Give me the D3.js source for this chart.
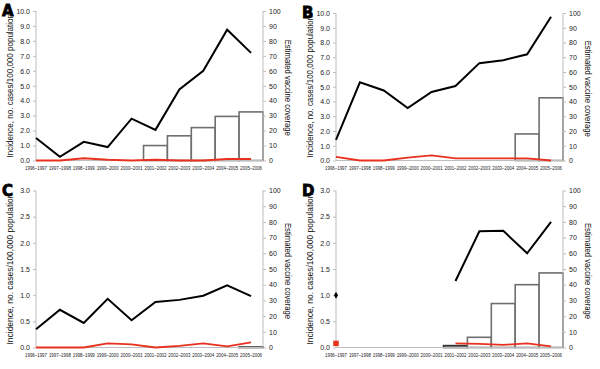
<!DOCTYPE html>
<html><head><meta charset="utf-8">
<script src="https://cdn.jsdelivr.net/npm/d3@7/dist/d3.min.js"></script>
<style>
html,body{margin:0;padding:0;background:#fff;}
svg{display:block;font-family:"Liberation Sans",Arial,sans-serif;}
</style></head>
<body>
<svg id="chart" width="600" height="369"></svg>
<script>
const categories = ["1996–1997","1997–1998","1998–1999","1999–2000","2000–2001","2001–2002","2002–2003","2003–2004","2004–2005","2005–2006"];

const aIncidence = [1.5, 0.25, 1.25, 0.9, 2.8, 2.05, 4.75, 6.0, 8.75, 7.2];
const aVaccineType = [0.0, 0.0, 0.15, 0.05, 0.0, 0.05, 0.0, 0.0, 0.1, 0.1];
const aCoverage = [null, null, null, null, null, 10, 16.5, 22, 29.5, 32.5];

const bIncidence = [1.4, 5.3, 4.75, 3.55, 4.65, 5.05, 6.6, 6.8, 7.2, 9.75];
const bVaccineType = [0.25, 0.0, 0.0, 0.2, 0.35, 0.15, 0.15, 0.15, 0.15, 0.0];
const bCoverage = [null, null, null, null, null, null, null, null, 18, 42.5];

const cIncidence = [0.35, 0.72, 0.47, 0.93, 0.52, 0.87, 0.91, 0.99, 1.19, 0.98];
const cVaccineType = [0.0, 0.0, 0.0, 0.08, 0.06, 0.0, 0.03, 0.08, 0.02, 0.1];
const cCoverage = [null, null, null, null, null, null, null, null, null, 0.3];

const dIncidence = [null, null, null, null, null, 1.27, 2.22, 2.23, 1.8, 2.4];
const dVaccineType = [null, null, null, null, null, 0.08, 0.07, 0.05, 0.08, 0.02];
const dCoverage = [null, null, null, null, null, 1.2, 6.5, 28, 40, 47.5];
const dSingleIncidence = [{cat: 0, value: 1.0}];
const dSingleVaccineType = [{cat: 0, value: 0.05}];

const leftTicksAB = [0,1,2,3,4,5,6,7,8,9,10];
const leftTicksCD = [0,0.5,1,1.5,2,2.5,3];
const rightTicks = [0,10,20,30,40,50,60,70,80,90,100];

const leftTitle = "Incidence, no. cases/100,000 population";
const rightTitle = "Estimated vaccine coverage";

const panels = [
  {letter:"A", x0:36, x1:263, y0:11, y1:160.5, lmax:10, lticks:leftTicksAB, inc:aIncidence, vt:aVaccineType, cov:aCoverage},
  {letter:"B", x0:336, x1:563, y0:13, y1:160.5, lmax:10, lticks:leftTicksAB, inc:bIncidence, vt:bVaccineType, cov:bCoverage},
  {letter:"C", x0:36, x1:263, y0:190.5, y1:347.5, lmax:3, lticks:leftTicksCD, inc:cIncidence, vt:cVaccineType, cov:cCoverage},
  {letter:"D", x0:336, x1:563, y0:190.5, y1:347.5, lmax:3, lticks:leftTicksCD, inc:dIncidence, vt:dVaccineType, cov:dCoverage,
   single:dSingleIncidence, singleVT:dSingleVaccineType}
];

const svg = d3.select("#chart");
const axisGray = "#bdbdbd";
const red = "#e8321f";

panels.forEach(p => {
  const g = svg.append("g");
  const x = d3.scaleLinear().domain([0, 9.5]).range([p.x0, p.x1]);
  const yl = d3.scaleLinear().domain([0, p.lmax]).range([p.y1, p.y0]);
  const yr = d3.scaleLinear().domain([0, 100]).range([p.y1, p.y0]);
  const bw = x(1) - x(0);

  // bars (vaccine coverage)
  const bars = p.cov.map((v,i)=>({i, v})).filter(d => d.v != null);
  g.selectAll("rect.bar").data(bars).enter().append("rect")
    .attr("x", d => x(d.i) - bw/2)
    .attr("width", bw)
    .attr("y", d => yr(d.v))
    .attr("height", d => yr(0) - yr(d.v))
    .attr("fill", "#fff")
    .attr("stroke", d => d.v < 2 ? "#333" : "#6f6f6f")
    .attr("stroke-width", 1.6);

  // axes
  const la = d3.axisLeft(yl).tickValues(p.lticks).tickFormat(d3.format(".1f")).tickSize(3).tickPadding(3);
  const lg = g.append("g").attr("transform", `translate(${p.x0},0)`).call(la);
  const ra = d3.axisRight(yr).tickValues(rightTicks).tickFormat(d3.format("d")).tickSize(3).tickPadding(3);
  const rg = g.append("g").attr("transform", `translate(${p.x1},0)`).call(ra);
  [lg, rg].forEach(ag => {
    ag.select(".domain").attr("stroke", axisGray).attr("stroke-width", 1).attr("d", `M0,${p.y0}V${p.y1}`);
    ag.selectAll(".tick line").attr("stroke", axisGray);
    ag.selectAll(".tick text").attr("font-size", 7).attr("fill", "#222")
      .attr("font-family", "'Liberation Sans',Arial,sans-serif");
  });
  // baseline
  g.append("line").attr("x1", p.x0).attr("x2", p.x1).attr("y1", p.y1).attr("y2", p.y1)
    .attr("stroke", axisGray).attr("stroke-width", 1);

  // x labels
  g.selectAll("text.xl").data(categories).enter().append("text")
    .attr("x", (d,i) => x(i)).attr("y", p.y1 + 9)
    .attr("text-anchor", "middle").attr("font-size", 5.2).attr("fill", "#222")
    .attr("textLength", 22).attr("lengthAdjust", "spacingAndGlyphs")
    .text(d => d);

  // lines
  const line = d3.line().defined(d => d.v != null).x(d => x(d.i));
  g.append("path").datum(p.vt.map((v,i)=>({i,v})))
    .attr("d", line.y(d => yl(d.v)))
    .attr("fill", "none").attr("stroke", red).attr("stroke-width", 1.8).attr("stroke-linejoin","round");
  g.append("path").datum(p.inc.map((v,i)=>({i,v})))
    .attr("d", line.y(d => yl(d.v)))
    .attr("fill", "none").attr("stroke", "#000").attr("stroke-width", 2).attr("stroke-linejoin","miter");

  if (p.single) {
    g.selectAll("path.dia").data(p.single).enter().append("path")
      .attr("d", d3.symbol().type(d3.symbolDiamond).size(14))
      .attr("transform", d => `translate(${x(d.cat)},${yl(d.value)})`)
      .attr("fill", "#000");
  }
  if (p.singleVT) {
    g.selectAll("path.sq").data(p.singleVT).enter().append("path")
      .attr("d", d3.symbol().type(d3.symbolSquare).size(30))
      .attr("transform", d => `translate(${x(d.cat)},${yl(d.value) - 1.5})`)
      .attr("fill", red);
  }

  // titles
  const lcx = p.x0 - 26, lcy = (p.y0 + p.y1) / 2;
  g.append("text").attr("transform", `translate(${lcx},${lcy}) rotate(-90)`)
    .attr("text-anchor", "middle").attr("font-size", 8.4).attr("fill", "#111")
    .attr("textLength", p.y1 - p.y0 - 6).attr("lengthAdjust", "spacingAndGlyphs")
    .attr("dy", "0.35em").text(leftTitle);
  const rcx = p.x1 + 25, rcy = (p.y0 + p.y1) / 2 + 2;
  g.append("text").attr("transform", `translate(${rcx},${rcy}) rotate(90)`)
    .attr("text-anchor", "middle").attr("font-size", 8.4).attr("fill", "#111")
    .attr("textLength", 96).attr("lengthAdjust", "spacingAndGlyphs")
    .attr("dy", "0.35em").text(rightTitle);

  // panel letter
  g.append("text").attr("x", p.x0 - 34).attr("y", p.y0 + 5)
    .attr("font-family", "'DejaVu Sans',sans-serif").attr("font-weight", "bold")
    .attr("font-size", 15).attr("fill", "#000")
    .attr("stroke", "#000").attr("stroke-width", 0.8).text(p.letter);
});
</script>
</body></html>
